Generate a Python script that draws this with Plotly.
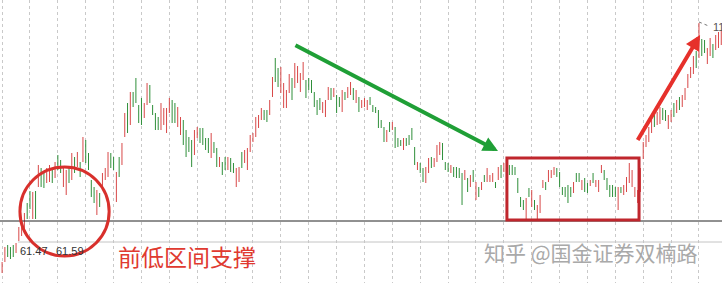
import plotly.graph_objects as go

# ---- data (price units) ----
highs = [
    57.6, 60.6, 61.0, 60.6, 61.0, 61.4, 64.6, 64.8, 67.4, 69.4,
    71.8, 71.6, 71.8, 77.0, 76.4, 75.6, 76.4, 77.0, 76.4, 77.6,
    79.0, 78.0, 76.6, 76.0, 76.6, 79.4, 78.6, 79.6, 77.6, 82.6,
    82.0, 79.4, 74.0, 72.6, 72.0, 71.4, 75.4, 76.4, 79.6, 79.4,
    78.6, 75.6, 78.6, 81.4, 87.4, 89.4, 91.6, 91.6, 94.4, 89.0,
    90.4, 89.4, 93.4, 93.0, 89.0, 87.4, 86.6, 89.4, 88.4, 88.4,
    90.4, 90.0, 89.4, 88.6, 86.6, 86.0, 84.0, 82.6, 82.0, 84.0,
    84.6, 84.4, 84.4, 82.4, 82.4, 83.4, 81.6, 80.4, 78.6, 77.6,
    78.6, 78.6, 78.4, 77.4, 76.4, 76.6, 79.6, 80.0, 80.4, 83.0,
    83.4, 86.6, 87.0, 88.4, 88.0, 88.0, 90.0, 94.6, 98.4, 96.4,
    96.6, 93.4, 92.0, 95.2, 94.4, 97.4, 96.8, 95.4, 97.6, 94.0,
    94.4, 94.0, 91.6, 90.0, 90.4, 89.6, 90.0, 92.6, 92.4, 92.4,
    91.0, 90.6, 92.0, 91.6, 92.6, 93.6, 92.4, 92.0, 90.6, 90.0,
    90.4, 90.0, 90.6, 89.0, 88.6, 88.0, 86.0, 84.6, 84.0, 85.6,
    85.6, 84.6, 82.4, 82.0, 82.4, 82.4, 83.0, 84.4, 80.6, 77.6,
    77.4, 76.4, 76.6, 78.4, 78.6, 78.4, 81.0, 81.6, 81.4, 77.6,
    77.4, 77.0, 76.6, 76.6, 76.4, 75.4, 76.0, 74.4, 75.0, 76.0,
    73.6, 72.6, 73.6, 75.0, 76.4, 75.0, 75.4, 73.6, 76.6, 77.0,
    77.4, 78.4, 77.0, 77.0, 76.6, 74.4, 70.6, 70.0, 70.4, 72.4,
    72.0, 70.0, 69.0, 71.0, 74.0, 73.6, 76.0, 76.0, 76.6, 76.4,
    75.6, 72.6, 72.6, 73.0, 72.6, 73.6, 75.4, 75.4, 74.0, 74.4,
    73.4, 74.0, 75.4, 74.0, 74.0, 77.0, 76.0, 74.4, 73.0, 73.0,
    72.6, 72.6, 72.6, 73.0, 74.6, 77.4, 76.0, 72.6, 72.0, 76.4,
    81.6, 83.0, 84.6, 86.0, 87.6, 87.6, 88.6, 88.4, 88.0, 87.0,
    88.0, 89.4, 90.0, 90.6, 91.0, 92.4, 95.2, 96.6, 98.8, 99.8,
    105.4, 102.2, 102.0, 100.4, 102.4, 101.2, 103.0, 103.6, 104.0,
]
lows = [
    55.4, 57.6, 58.6, 58.2, 58.6, 59.4, 61.8, 62.8, 64.0, 66.2,
    68.2, 66.2, 66.2, 72.6, 72.6, 72.4, 73.4, 73.6, 73.4, 74.4,
    76.0, 75.4, 72.6, 71.0, 73.4, 74.0, 75.4, 76.6, 74.6, 77.6,
    77.4, 76.0, 70.6, 69.4, 67.0, 68.6, 72.6, 74.0, 74.6, 76.4,
    76.0, 69.6, 74.6, 77.0, 82.6, 83.4, 85.0, 88.6, 89.4, 85.4,
    85.0, 86.4, 89.0, 89.4, 87.0, 84.0, 84.0, 84.0, 85.0, 83.4,
    87.4, 85.4, 85.4, 84.6, 83.0, 81.0, 78.6, 79.6, 76.6, 79.0,
    82.4, 81.4, 81.0, 80.0, 79.4, 78.4, 79.4, 76.6, 76.6, 75.0,
    76.0, 76.0, 75.6, 75.4, 72.6, 73.6, 76.4, 77.4, 76.0, 79.6,
    81.6, 82.6, 84.4, 86.0, 86.0, 85.6, 87.0, 90.6, 93.6, 92.6,
    91.4, 88.4, 88.4, 91.4, 90.0, 92.4, 93.4, 91.6, 94.0, 90.4,
    92.0, 91.4, 88.6, 87.0, 88.0, 87.4, 86.6, 90.0, 90.0, 90.6,
    87.4, 88.6, 87.6, 90.0, 90.4, 91.0, 90.0, 89.4, 87.6, 88.4,
    88.6, 88.0, 89.0, 87.6, 87.4, 84.4, 84.4, 81.6, 81.6, 83.6,
    84.0, 80.4, 80.6, 80.8, 80.0, 80.8, 81.0, 82.0, 77.0, 76.0,
    75.4, 73.6, 73.4, 75.4, 76.4, 76.6, 77.6, 79.0, 78.0, 76.0,
    75.6, 75.4, 74.6, 74.4, 74.4, 69.0, 74.0, 71.6, 72.6, 73.6,
    70.0, 70.6, 72.0, 73.6, 73.6, 73.6, 73.6, 72.4, 74.0, 74.4,
    75.6, 75.4, 75.0, 75.0, 75.0, 71.4, 68.6, 68.0, 66.0, 70.6,
    68.6, 68.0, 66.0, 67.4, 72.4, 72.0, 73.6, 74.4, 75.0, 74.6,
    72.6, 71.0, 70.6, 69.4, 70.6, 71.4, 73.6, 73.6, 72.0, 71.6,
    71.4, 72.8, 73.4, 72.6, 71.6, 75.4, 74.0, 72.0, 70.6, 70.6,
    70.6, 68.0, 71.4, 71.0, 71.6, 73.4, 72.6, 70.6, 69.4, 71.6,
    78.2, 80.6, 81.6, 83.4, 84.6, 85.0, 85.2, 86.0, 85.8, 84.2,
    85.6, 86.6, 87.4, 88.0, 88.6, 90.0, 92.4, 94.4, 95.2, 96.4,
    98.4, 98.8, 99.4, 97.2, 98.8, 98.4, 100.0, 100.4, 101.0,
]
# r = up bar (red), g = down bar (green)
direction_rows = [
    "rrgggrrrrg", "grgrggrrgr", "ggrrgrgrgr", "ggggrgrrrg", "grgrrgrggg",
    "grrggggrrr", "rggrrggggr", "rggggrggrg", "grggrrgrrr", "rrrrggrrgg",
    "rrrrgrrrrg", "gggggrrrgr", "ggrgrrgrgr", "rrggggggrg", "rgggrggggr",
    "ggrrgrrrgg", "grggggrgrg", "rgrgrrrgrg", "rrggggggrg", "rgrrrgrrrg",
    "gggggrggrg", "grgrrrgggg", "grgrrrrrrr", "rrrrgrrggr", "rgrgrrrrrg",
    "rggrrgrrr",
]
directions = "".join(direction_rows)

labels_low = ["61.47", "61.59"]
label_high = "110.58"
note_text = "前低区间支撑"
watermark = "知乎 @国金证券双楠路"

RED = "#d84848"
GREEN = "#2f8f3a"

idx = list(range(len(highs)))
opens = [lo if d == "r" else hi for hi, lo, d in zip(highs, lows, directions)]
closes = [hi if d == "r" else lo for hi, lo, d in zip(highs, lows, directions)]

fig = go.Figure(go.Ohlc(
    x=idx, open=opens, high=highs, low=lows, close=closes,
    increasing=dict(line=dict(color=RED, width=1)),
    decreasing=dict(line=dict(color=GREEN, width=1)),
    tickwidth=0, hoverinfo="skip", showlegend=False,
))

fig.update_layout(
    width=722, height=283,
    margin=dict(l=0, r=0, t=0, b=0),
    paper_bgcolor="white", plot_bgcolor="white",
    showlegend=False,
    xaxis=dict(range=[-0.753, 258.26], showgrid=True, gridcolor="#c9c9c9",
               griddash="dot", gridwidth=1, dtick=10, tick0=0,
               showticklabels=False, zeroline=False, showline=False,
               ticks="", rangeslider=dict(visible=False), fixedrange=True),
    yaxis=dict(range=[53.4, 110], showgrid=False, showticklabels=False,
               zeroline=False, showline=False, ticks="", fixedrange=True),
)

shapes = [
    dict(type="line", xref="paper", yref="y", x0=0, x1=1, y0=65.8, y1=65.8,
         line=dict(color="#222222", width=1)),
    dict(type="line", xref="x", yref="y", x0=5.7, x1=260, y0=61.6, y1=61.6,
         line=dict(color="#c4c4c4", width=1)),
    dict(type="circle", xref="x", yref="y", x0=6.4, x1=38.4, y0=58.8, y1=76.6,
         line=dict(color="#d8302c", width=3)),
    dict(type="rect", xref="x", yref="y", x0=181.1, x1=228.5, y0=66.0, y1=78.4,
         line=dict(color="#c0262d", width=3)),
    dict(type="line", xref="x", yref="y", x0=250, x1=253.5, y0=105.6, y1=104.8,
         line=dict(color="#777777", width=1, dash="dot")),
]
fig.update_layout(shapes=shapes)

ann = [
    dict(x=177.9, y=79.8, ax=104.7, ay=101.1, xref="x", yref="y",
         axref="x", ayref="y", text="", showarrow=True, arrowhead=2,
         arrowsize=0.75, arrowwidth=4, arrowcolor="#1f9f36", standoff=0),
    dict(x=250.4, y=103.0, ax=227.7, ay=81.7, xref="x", yref="y",
         axref="x", ayref="y", text="", showarrow=True, arrowhead=2,
         arrowsize=0.75, arrowwidth=4, arrowcolor="#e6302b", standoff=0),
    dict(x=66.2, y=58.8, xref="x", yref="y", text=note_text, showarrow=False,
         font=dict(family="Noto Sans CJK SC", size=23, color="#e03a30")),
    dict(x=211.4, y=59.6, xref="x", yref="y", text=watermark, showarrow=False,
         font=dict(family="Noto Sans CJK SC", size=21, color="#a9a9a9")),
    dict(x=5.7, y=59.8, xref="x", yref="y", text=labels_low[0], showarrow=False,
         xanchor="left", font=dict(family="Liberation Sans", size=11, color="#333333")),
    dict(x=18.6, y=59.8, xref="x", yref="y", text=labels_low[1], showarrow=False,
         xanchor="left", font=dict(family="Liberation Sans", size=11, color="#333333")),
    dict(x=254.3, y=104.6, xref="x", yref="y", text=label_high, showarrow=False,
         xanchor="left", font=dict(family="Liberation Sans", size=11, color="#555555")),
]
fig.update_layout(annotations=ann)

fig.write_html("out.html")
